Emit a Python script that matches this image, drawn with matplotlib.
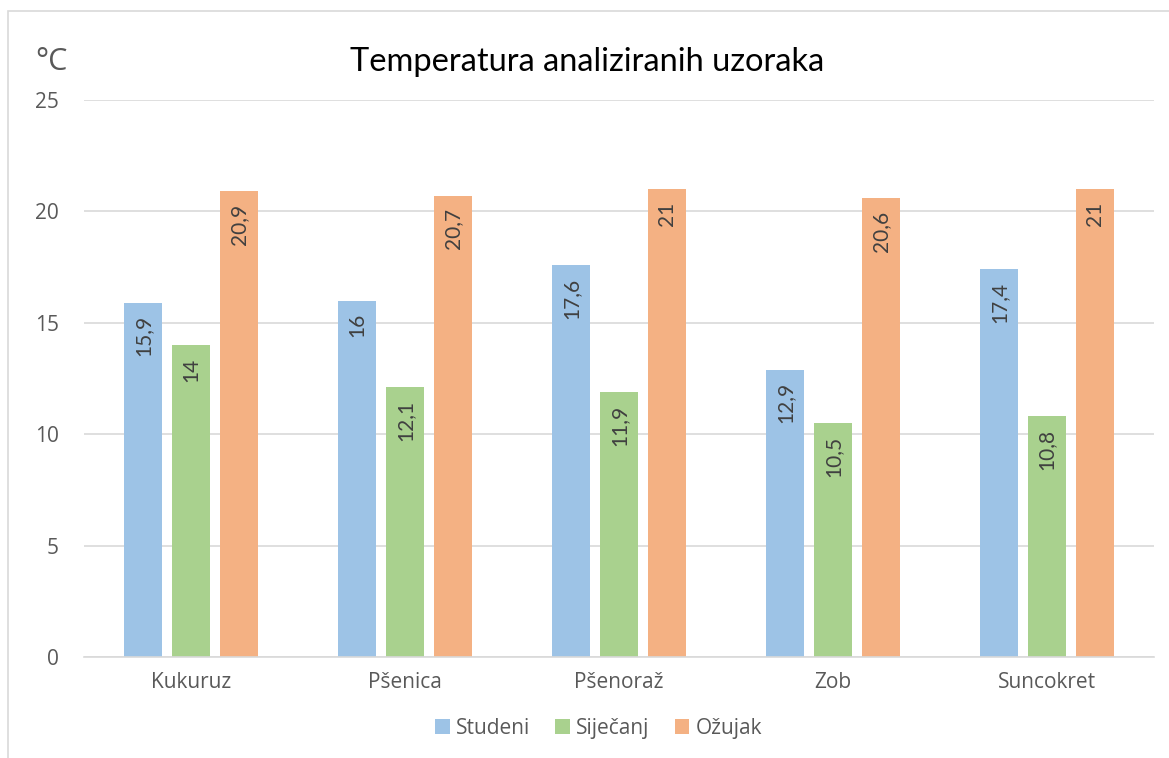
import numpy as np
import matplotlib.pyplot as plt
from matplotlib.patches import Rectangle

plt.rcParams['font.family'] = ['Open Sans', 'DejaVu Sans']

categories = ['Kukuruz', 'Pšenica', 'Pšenoraž', 'Zob', 'Suncokret']
studeni = [15.9, 16, 17.6, 12.9, 17.4]
sijecanj = [14, 12.1, 11.9, 10.5, 10.8]
ozujak = [20.9, 20.7, 21, 20.6, 21]
series_names = ['Studeni', 'Siječanj', 'Ožujak']
colors = ['#9DC3E6', '#A9D18E', '#F4B183']
text_color = '#595959'

fig = plt.figure(figsize=(11.69, 7.58), dpi=100)
ax = fig.add_axes([0.0719, 0.1332, 0.9151, 0.7348])

x = np.arange(len(categories))
width = 0.178
step = 0.224

for i, (vals, name, col) in enumerate(zip([studeni, sijecanj, ozujak], series_names, colors)):
    pos = x + (i - 1) * step
    ax.bar(pos, vals, width=width, color=col, label=name, zorder=2)
    for p, v in zip(pos, vals):
        lbl = ('%g' % v).replace('.', ',')
        ax.annotate(lbl, (p, v), xytext=(0, -9), textcoords='offset points',
                    rotation=90, ha='center', va='top', fontsize=15,
                    color='#404040', family=['Lato', 'DejaVu Sans'])

ax.set_xlim(-0.5, len(categories) - 0.5)
ax.set_ylim(0, 25)
ax.set_yticks(range(0, 26, 5))
ax.yaxis.grid(True, color='#D9D9D9', linewidth=1.2, zorder=0)
ax.set_axisbelow(True)
for s in ['top', 'right', 'left']:
    ax.spines[s].set_visible(False)
ax.spines['bottom'].set_color('#D9D9D9')
ax.spines['bottom'].set_linewidth(1.2)
ax.tick_params(axis='both', length=0, labelsize=15, colors=text_color, pad=11)
ax.tick_params(axis='y', pad=18)
ax.set_xticks(x)
ax.set_xticklabels(categories)

fig.text(0.502, 0.918, 'Temperatura analiziranih uzoraka', ha='center', va='center',
         fontsize=23.5, color='black', family=['Lato', 'DejaVu Sans'])
fig.text(0.030, 0.918, '°C', ha='left', va='center', fontsize=22, color=text_color)

ax.legend(loc='upper center', bbox_to_anchor=(0.481, -0.075), ncol=3, frameon=False,
          fontsize=15, handlelength=0.7, handleheight=0.7, handletextpad=0.3,
          columnspacing=1.2, labelcolor=text_color)

fig.patches.append(Rectangle((0.007, -0.01), 1.1, 0.995, transform=fig.transFigure,
                             fill=False, edgecolor='#D9D9D9', linewidth=1.2))

fig.savefig('out.png', dpi=100)
